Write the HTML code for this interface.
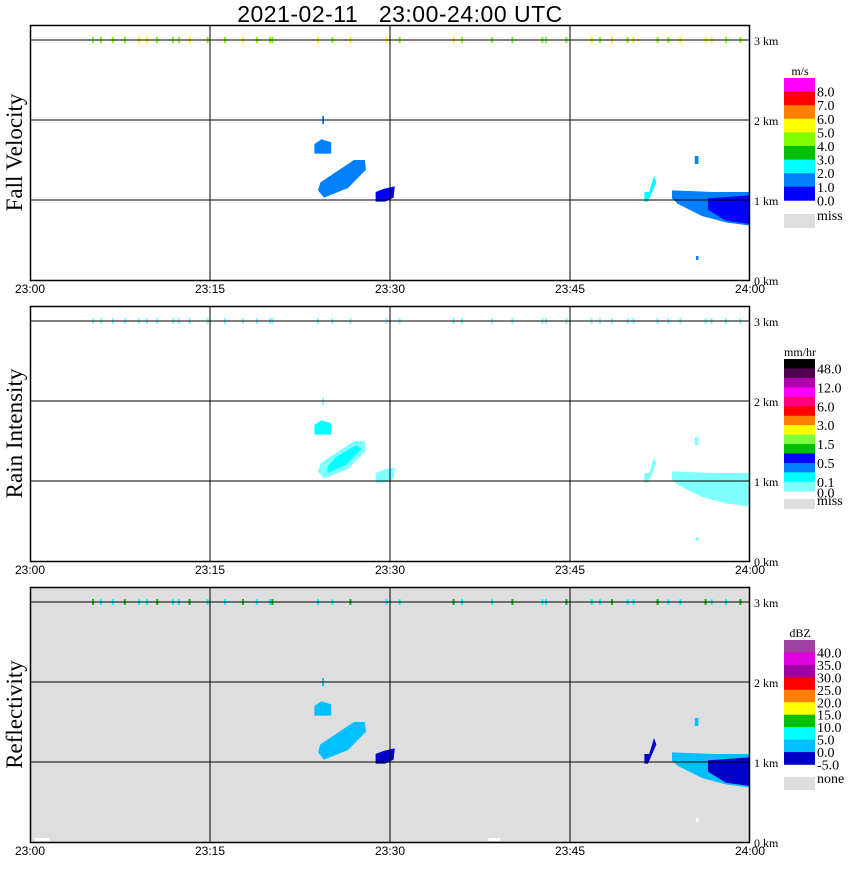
<!DOCTYPE html>
<html><head><meta charset="utf-8">
<style>
body{margin:0;background:#fff;}
svg text{font-family:"Liberation Serif",serif;}
</style></head>
<body>
<svg id="chart" width="850" height="868" xmlns="http://www.w3.org/2000/svg">
<text x="400" y="22" text-anchor="middle" font-size="23" style="font-family:'Liberation Sans',sans-serif;white-space:pre" letter-spacing="0.5">2021-02-11   23:00-24:00 UTC</text>
</svg>
<script>
// ----- data -----
const xTickLabels = ["23:00","23:15","23:30","23:45","24:00"];
const xTickMin = [0,15,30,45,60];
const yTickKm = [0,1,2,3];
const panelTitles = ["Fall Velocity","Rain Intensity","Reflectivity"];
const panelTops = [25,306,587];
// echo polygons in (minute, km)
const blobMain = [[24.0,1.12],[24.5,1.03],[26.5,1.15],[28.0,1.38],[27.9,1.5],[27.0,1.5],[25.5,1.35],[24.2,1.22]];
const blobMainCore = [[24.8,1.1],[26.3,1.2],[27.6,1.4],[27.2,1.45],[25.5,1.3],[24.8,1.18]];
const blobSmall = [[23.7,1.58],[25.1,1.58],[25.1,1.72],[24.3,1.76],[23.7,1.7]];
const blobTiny = [[24.35,1.95],[24.5,1.95],[24.5,2.05],[24.35,2.05]];
const blob2330 = [[28.8,0.98],[29.6,0.98],[30.3,1.03],[30.4,1.17],[29.5,1.14],[28.8,1.1]];
const blobRight = [[53.5,1.12],[57,1.1],[60,1.1],[60,0.68],[58,0.72],[56,0.8],[54,0.95],[53.5,1.02]];
const blobRightCore = [[56.5,1.02],[60,1.06],[60,0.7],[58,0.74],[56.5,0.88]];
const blobDiag = [[51.2,0.98],[51.5,0.98],[52.2,1.22],[52.0,1.3],[51.6,1.1],[51.2,1.1]];
const blobHigh = [[55.4,1.45],[55.7,1.45],[55.7,1.55],[55.4,1.55]];
const blobLow = [[55.5,0.25],[55.7,0.25],[55.7,0.3],[55.5,0.3]];
const blobList = [blobMain,blobMainCore,blobSmall,blobTiny,blob2330,blobRight,blobRightCore,blobDiag,blobHigh,blobLow];
const blobColorsFV = ["#0080ff","#0080ff","#0080ff","#0080ff","#0000ff","#0080ff","#0000ff","#00ffff","#0080ff","#0080ff"];
const blobColorsRI = ["#80ffff","#00ffff","#00ffff","#80ffff","#80ffff","#80ffff","#80ffff","#80ffff","#80ffff","#80ffff"];
const blobColorsRF = ["#00c0ff","#00c0ff","#00c0ff","#00c0ff","#0000c8","#00c0ff","#0000c8","#0000c8","#00c0ff","#ffffff"];
// marks along 3 km
const topDotMin = [5.25,5.9,6.9,7.9,9.1,9.75,10.6,11.9,12.4,13.3,14.8,16.25,17.75,18.9,20,20.2,24,25.2,26.7,29.7,30.8,35.3,36,38.5,40.2,42.7,43,44.7,46.8,47.5,48.5,49.8,50.3,52.3,53.2,54.2,56.3,56.8,58,59.2];
const topDotFV = ["#80ff00","#80ff00","#80ff00","#80ff00","#ffff00","#ffff00","#80ff00","#80ff00","#80ff00","#ffff00","#80ff00","#80ff00","#ffff00","#80ff00","#80ff00","#80ff00","#ffff00","#80ff00","#ffff00","#ffff00","#80ff00","#ffff00","#80ff00","#80ff00","#80ff00","#80ff00","#80ff00","#80ff00","#ffff00","#80ff00","#ffff00","#80ff00","#ffff00","#80ff00","#80ff00","#ffff00","#ffff00","#ffff00","#80ff00","#80ff00"];
// legends
const legFVColors = ["#ff00ff","#ff0000","#ff8000","#ffff00","#80ff00","#00c000","#00ffff","#0080ff","#0000ff"];
const legFVLabels = ["8.0","7.0","6.0","5.0","4.0","3.0","2.0","1.0","0.0"];
const legRIColors = ["#000000","#500050","#b000b0","#ff00ff","#ff0080","#ff0000","#ff8000","#ffff00","#80ff40","#00c000","#0000ff","#0080ff","#00ffff","#80ffff"];
const legRILabels = ["48.0","","12.0","","6.0","","3.0","","1.5","","0.5","","0.1",""];
const legRFColors = ["#a040a0","#e000e0","#a000a0","#ff0000","#ff8000","#ffff00","#00c000","#00ffff","#00c0ff","#0000c8"];
const legRFLabels = ["40.0","35.0","30.0","25.0","20.0","15.0","10.0","5.0","0.0","-5.0"];

// ----- drawing -----
const svg = document.getElementById('chart');
const NS = 'http://www.w3.org/2000/svg';
const X0 = 30, X1 = 750, PH = 255;
function xS(m){ return X0 + (X1 - X0) * m / 60; }
function yS(top, km){ return top + PH - 80 * km; }
function mk(tag, attrs, parent){
  const e = document.createElementNS(NS, tag);
  for (const k in attrs) e.setAttribute(k, attrs[k]);
  (parent || svg).appendChild(e);
  return e;
}
const blobColorSets = [blobColorsFV, blobColorsRI, blobColorsRF];
const legends = [
  {unit:"m/s", colors:legFVColors, labels:legFVLabels, y0:78, h:13.6, last:"0.0", miss:"miss", missY:214, missH:14},
  {unit:"mm/hr", colors:legRIColors, labels:legRILabels, y0:359, h:9.45, last:"0.0", miss:"miss", missY:499, missH:10},
  {unit:"dBZ", colors:legRFColors, labels:legRFLabels, y0:640, h:12.45, last:null, miss:"none", missY:777, missH:13}
];

panelTops.forEach((top, p) => {
  const g = mk('g', {});
  
  
  const bg = mk('rect', {x:X0, y:top, width:X1-X0, height:PH, fill: p===2 ? '#dedede' : '#ffffff'}, g);
  
  
  blobList.forEach((poly, i) => {
    const pts = poly.map(d => xS(d[0]).toFixed(1) + ',' + yS(top, d[1]).toFixed(1)).join(' ');
    const e = mk('polygon', {points: pts, fill: blobColorSets[p][i]}, g);
    
    
  });
  if (p === 2) {
    [[0.4,1.6],[38.2,39.2]].forEach(s => {
      const e = mk('rect', {x:xS(s[0]), y:yS(top,0.05), width:xS(s[1])-xS(s[0]), height:3, fill:'#fff'}, g);
      
      
    });
  }
  topDotMin.forEach((m, i) => {
    const col = p===0 ? topDotFV[i] : (p===1 ? '#80ffff' : (i%3===0 ? '#00c000' : '#00ffff'));
    const e = mk('rect', {x:xS(m)-1, y:yS(top,3)-3, width:2, height:6, fill:col}, g);
    
    
  });
  yTickKm.forEach(k => {
    if (k>0) {
      const l = mk('line', {x1:X0, x2:X1, y1:yS(top,k), y2:yS(top,k), stroke:'#000', 'stroke-width':1}, g);
      
      
    }
    const t = mk('text', {x:X1+4, y:yS(top,k)+5, 'font-size':12}, g);
    t.textContent = k + ' km';
    
    
  });
  xTickMin.forEach((m, i) => {
    if (i>0 && i<xTickMin.length-1) {
      const l = mk('line', {x1:xS(m), x2:xS(m), y1:top, y2:top+PH, stroke:'#000', 'stroke-width':1}, g);
      
      
    }
    const t = mk('text', {x:xS(m), y:top+PH+13, 'font-size':12, 'text-anchor':'middle', style:"font-family:'Liberation Sans',sans-serif"}, g);
    t.textContent = xTickLabels[i];
    
    
  });
  const fr = mk('rect', {x:X0+0.5, y:top+0.5, width:X1-X0-1, height:PH, fill:'none', stroke:'#000', 'stroke-width':1.5}, g);
  
  
  const tt = mk('text', {x:0, y:0, 'font-size':23, 'text-anchor':'middle', transform:'translate(22,' + (top+PH/2) + ') rotate(-90)'}, g);
  tt.textContent = panelTitles[p];
  
  
  const L = legends[p];
  const lg = mk('g', {}, g);
  
  
  const ut = mk('text', {x:800, y:L.y0-3, 'font-size':12, 'text-anchor':'middle'}, lg);
  ut.textContent = L.unit;
  
  
  L.colors.forEach((c, i) => {
    const r = mk('rect', {x:784, y:L.y0 + i*L.h, width:31, height:L.h+0.3, fill:c}, lg);
    
    
    if (L.labels[i]) {
      const t = mk('text', {x:817, y:L.y0 + (i+1)*L.h + 5, 'font-size':14}, lg);
      t.textContent = L.labels[i];
      
      
    }
  });
  if (L.last && p===1) {
    const t = mk('text', {x:817, y:L.y0 + L.colors.length*L.h + 6, 'font-size':14}, lg);
    t.textContent = L.last;
    
    
  }
  const mr = mk('rect', {x:784, y:L.missY, width:31, height:L.missH, fill:'#dedede'}, lg);
  
  
  const mt = mk('text', {x:817, y:L.missY+6, 'font-size':14}, lg);
  mt.textContent = L.miss;
  
  
});
</script>
</body></html>
